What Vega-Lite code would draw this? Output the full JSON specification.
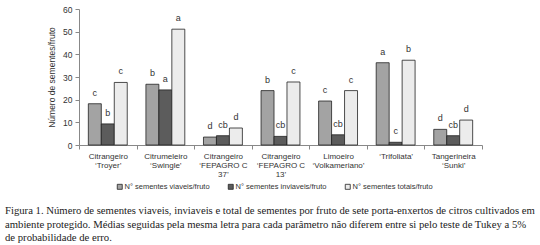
{
  "$schema": "https://vega.github.io/schema/vega-lite/v6.json",
  "width": 403,
  "height": 136,
  "autosize": "none",
  "padding": {"left": 79, "top": 9, "right": 58, "bottom": 100},
  "background": "white",
  "config": {
    "view": {"stroke": null},
    "font": "Liberation Sans",
    "axis": {"labelColor": "#333", "titleColor": "#333", "domainColor": "#888", "tickColor": "#888", "grid": false}
  },
  "title": {
    "text": [
      "Figura 1. Número de sementes viaveis, inviaveis e total de sementes por fruto de sete porta-enxertos de citros cultivados em",
      "ambiente protegido. Médias seguidas pela mesma letra para cada parâmetro não diferem entre si pelo teste de Tukey a 5%",
      "de probabilidade de erro."
    ],
    "orient": "bottom",
    "anchor": "start",
    "frame": "group",
    "dx": -74,
    "offset": 15,
    "font": "Liberation Serif",
    "fontSize": 10.7,
    "fontWeight": "normal",
    "color": "#222",
    "lineHeight": 13.5
  },
  "data": {
    "values": [
      {"grupo": "Citrangeiro|‘Troyer’", "tipo": "N° sementes viaveis/fruto", "valor": 18.2, "letra": "c"},
      {"grupo": "Citrangeiro|‘Troyer’", "tipo": "N° sementes inviaveis/fruto", "valor": 9.3, "letra": "b"},
      {"grupo": "Citrangeiro|‘Troyer’", "tipo": "N° sementes totais/fruto", "valor": 27.6, "letra": "c"},
      {"grupo": "Citrumeleiro|‘Swingle’", "tipo": "N° sementes viaveis/fruto", "valor": 26.8, "letra": "b"},
      {"grupo": "Citrumeleiro|‘Swingle’", "tipo": "N° sementes inviaveis/fruto", "valor": 24.3, "letra": "a"},
      {"grupo": "Citrumeleiro|‘Swingle’", "tipo": "N° sementes totais/fruto", "valor": 51.1, "letra": "a"},
      {"grupo": "Citrangeiro|‘FEPAGRO C|37’", "tipo": "N° sementes viaveis/fruto", "valor": 3.5, "letra": "d"},
      {"grupo": "Citrangeiro|‘FEPAGRO C|37’", "tipo": "N° sementes inviaveis/fruto", "valor": 4.1, "letra": "cb"},
      {"grupo": "Citrangeiro|‘FEPAGRO C|37’", "tipo": "N° sementes totais/fruto", "valor": 7.5, "letra": "d"},
      {"grupo": "Citrangeiro|‘FEPAGRO C|13’", "tipo": "N° sementes viaveis/fruto", "valor": 24.0, "letra": "b"},
      {"grupo": "Citrangeiro|‘FEPAGRO C|13’", "tipo": "N° sementes inviaveis/fruto", "valor": 3.8, "letra": "cb"},
      {"grupo": "Citrangeiro|‘FEPAGRO C|13’", "tipo": "N° sementes totais/fruto", "valor": 27.8, "letra": "c"},
      {"grupo": "Limoeiro|‘Volkameriano’", "tipo": "N° sementes viaveis/fruto", "valor": 19.4, "letra": "c"},
      {"grupo": "Limoeiro|‘Volkameriano’", "tipo": "N° sementes inviaveis/fruto", "valor": 4.5, "letra": "cb"},
      {"grupo": "Limoeiro|‘Volkameriano’", "tipo": "N° sementes totais/fruto", "valor": 24.0, "letra": "c"},
      {"grupo": "‘Trifoliata’", "tipo": "N° sementes viaveis/fruto", "valor": 36.3, "letra": "a"},
      {"grupo": "‘Trifoliata’", "tipo": "N° sementes inviaveis/fruto", "valor": 1.2, "letra": "c"},
      {"grupo": "‘Trifoliata’", "tipo": "N° sementes totais/fruto", "valor": 37.4, "letra": "b"},
      {"grupo": "Tangerineira|‘Sunki’", "tipo": "N° sementes viaveis/fruto", "valor": 6.9, "letra": "d"},
      {"grupo": "Tangerineira|‘Sunki’", "tipo": "N° sementes inviaveis/fruto", "valor": 4.1, "letra": "cb"},
      {"grupo": "Tangerineira|‘Sunki’", "tipo": "N° sementes totais/fruto", "valor": 11.0, "letra": "d"}
    ]
  },
  "encoding": {
    "x": {
      "field": "grupo",
      "type": "nominal",
      "sort": null,
      "scale": {"paddingInner": 0, "paddingOuter": 0},
      "axis": {
        "title": null,
        "labelAngle": 0,
        "labelExpr": "split(datum.label, '|')",
        "labelFontSize": 8,
        "labelLineHeight": 9,
        "labelPadding": 3,
        "tickBand": "extent",
        "tickSize": 4,
        "domainColor": "#888"
      }
    },
    "xOffset": {
      "field": "tipo",
      "type": "nominal",
      "sort": ["N° sementes viaveis/fruto", "N° sementes inviaveis/fruto", "N° sementes totais/fruto"],
      "scale": {"paddingInner": 0, "paddingOuter": 0.72}
    },
    "y": {
      "field": "valor",
      "type": "quantitative",
      "scale": {"domain": [0, 60]},
      "axis": {
        "title": "Número de sementes/fruto",
        "titleFontSize": 8.5,
        "titleFontWeight": "normal",
        "titlePadding": 6,
        "labelFontSize": 8.5,
        "values": [0, 10, 20, 30, 40, 50, 60],
        "tickSize": 4,
        "labelPadding": 3
      }
    }
  },
  "layer": [
    {
      "mark": {"type": "bar", "stroke": "#222", "strokeWidth": 0.8},
      "encoding": {
        "fill": {
          "field": "tipo",
          "type": "nominal",
          "sort": ["N° sementes viaveis/fruto", "N° sementes inviaveis/fruto", "N° sementes totais/fruto"],
          "scale": {"range": ["#a3a3a3", "#5c5c5c", "#ececec"]},
          "legend": {
            "title": null,
            "orient": "none",
            "legendX": 37,
            "legendY": 174,
            "direction": "horizontal",
            "labelFontSize": 7.5,
            "labelColor": "#333",
            "symbolType": "square",
            "symbolSize": 25,
            "symbolStrokeColor": "#222",
            "symbolStrokeWidth": 0.8,
            "symbolOffset": 0,
            "labelOffset": 1,
            "columnPadding": 16
          }
        }
      }
    },
    {
      "mark": {"type": "text", "baseline": "bottom", "dy": -6, "fontSize": 9, "color": "#333"},
      "encoding": {"text": {"field": "letra"}}
    }
  ]
}
